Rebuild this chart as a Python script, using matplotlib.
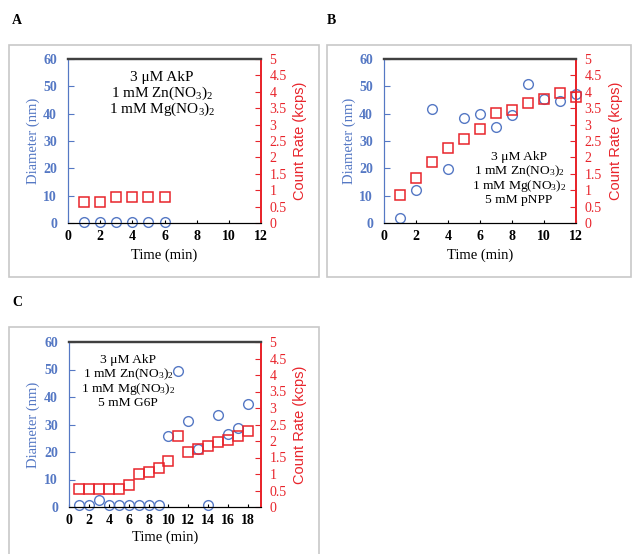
import matplotlib
matplotlib.use("Agg")
import matplotlib.pyplot as plt
from matplotlib.patches import Rectangle

plt.rcParams['font.family'] = ['Liberation Serif', 'DejaVu Serif']
plt.rcParams['mathtext.fontset'] = 'custom'
plt.rcParams['mathtext.rm'] = 'Liberation Serif'
plt.rcParams['mathtext.it'] = 'Liberation Serif:italic'

BLUE = '#5578C4'
RED = '#E8242B'

# Panel A: AkP with metal ions only
time_a = [1, 2, 3, 4, 5, 6]
diam_a = [0.5, 0.5, 0.5, 0.5, 0.5, 0.5]
rate_a = [0.65, 0.65, 0.78, 0.78, 0.78, 0.78]

# Panel B: AkP + pNPP
time_b = [1, 2, 3, 4, 5, 6, 7, 8, 9, 10, 11, 12]
diam_b = [1.9, 12.2, 41.8, 19.8, 38.5, 40.0, 35.2, 39.5, 50.9, 45.4, 44.8, 47.2]
rate_b = [0.85, 1.36, 1.87, 2.28, 2.55, 2.86, 3.36, 3.44, 3.65, 3.78, 3.95, 3.84]

# Panel C: AkP + G6P
time_c = list(range(1, 19))
diam_c = [0.6, 0.6, 2.5, 0.6, 0.6, 0.6, 0.6, 0.6, 0.6, 26.0, 49.5, 31.2,
          21.0, 0.6, 33.6, 26.4, 28.9, 37.3]
rate_c = [0.56, 0.56, 0.56, 0.56, 0.56, 0.68, 0.99, 1.06, 1.19, 1.38, 2.16, 1.67,
          1.77, 1.85, 1.97, 2.04, 2.16, 2.29]

conds_a = ["3 \u03bcM AkP", "1 mM Zn(NO$_3$)$_2$", "1 mM Mg(NO$_3$)$_2$"]
conds_b = conds_a + ["5 mM pNPP"]
conds_c = conds_a + ["5 mM G6P"]

W, H = 632, 554
fig = plt.figure(figsize=(W / 100, H / 100), dpi=100)


def px_rect(l, t, r, b):
    return [l / W, 1 - b / H, (r - l) / W, (b - t) / H]


# light gray frames around each panel
for (l, t, r, b) in [(9, 45, 319, 277), (327, 45, 631, 277), (9, 327, 319, 560)]:
    fig.patches.append(Rectangle((l / W, 1 - b / H), (r - l) / W, (b - t) / H,
                                 transform=fig.transFigure, fill=False,
                                 edgecolor='#C8C8C8', linewidth=1.2))

for lab, (x, y) in [("A", (12, 21)), ("B", (327, 21)), ("C", (12, 303))]:
    fig.text(x / W, 1 - y / H, lab, fontsize=10, fontweight='bold', va='center')


def panel(rect, t, d, c, xmax, xticks, conds, txt_x, txt_y0, txt_step, txt_size,
          ylab_x, y2lab_x, xlab_y):
    l, top, r, b = rect
    ax = fig.add_axes(px_rect(*rect))
    ax2 = ax.twinx()
    ax.plot(t, d, 'o', ms=7, mfc='none', mec=BLUE, mew=1.0, clip_on=False, zorder=3)
    ax2.plot(t, c, 's', ms=7, mfc='none', mec=RED, mew=1.1, clip_on=False, zorder=3)
    ax.set_xlim(0, xmax)
    ax.set_ylim(0, 60)
    ax2.set_ylim(0, 5)
    ax.set_xticks(xticks)
    ax.set_yticks(range(0, 61, 10))
    ax2.set_yticks([i * 0.5 for i in range(11)])
    ax2.set_yticklabels(['0', '0.5', '1', '1.5', '2', '2.5', '3', '3.5', '4', '4.5', '5'])
    ax.tick_params(axis='y', direction='in', length=4, color=BLUE, labelcolor=BLUE,
                   labelsize=10, pad=8)
    ax.tick_params(axis='x', direction='in', length=2, labelsize=10, pad=5)
    ax2.tick_params(axis='y', direction='in', length=4, color=RED, labelcolor=RED,
                    labelsize=10, pad=6)
    for a in (ax, ax2):
        a.spines['left'].set_color(BLUE)
        a.spines['right'].set_color(RED)
        a.spines['right'].set_linewidth(1.3)
        a.spines['top'].set_color('#404040')
        a.spines['top'].set_linewidth(1.6)
        a.spines['bottom'].set_color('black')
    for lbl in ax.get_yticklabels() + ax.get_xticklabels():
        lbl.set_fontweight('bold')
    ax.set_xlabel("Time (min)", fontsize=10.5)
    ax.set_ylabel("Diameter (nm)", fontsize=10.5, color=BLUE)
    ax2.set_ylabel("Count Rate (kcps)", fontsize=10.5, color=RED,
                   family=['Liberation Sans Narrow', 'Liberation Sans'])
    w, h = r - l, b - top
    ax.yaxis.set_label_coords((ylab_x + 5 - l) / w, 0.5)
    ax2.yaxis.set_label_coords((y2lab_x - 5 - l) / w, 0.5)
    ax.xaxis.set_label_coords(0.5, (b - (xlab_y - 6)) / h)
    for i, line in enumerate(conds):
        yy = txt_y0 + i * txt_step
        ax.text((txt_x - l) / w, (b - yy) / h, line, transform=ax.transAxes,
                ha='center', va='center', fontsize=txt_size)
    return ax


panel((68, 59, 261, 223), time_a, diam_a, rate_a, 12, range(0, 13, 2), conds_a,
      162, 77, 16, 11, 35, 298, 255)
panel((384, 59, 576, 223), time_b, diam_b, rate_b, 12, range(0, 13, 2), conds_b,
      519, 157, 14.5, 9.7, 351, 614, 255)
panel((69, 342, 261, 507), time_c, diam_c, rate_c, 19.3, range(0, 19, 2), conds_c,
      128, 360, 14.5, 9.7, 35, 298, 537)

fig.savefig("out.png", dpi=100)
